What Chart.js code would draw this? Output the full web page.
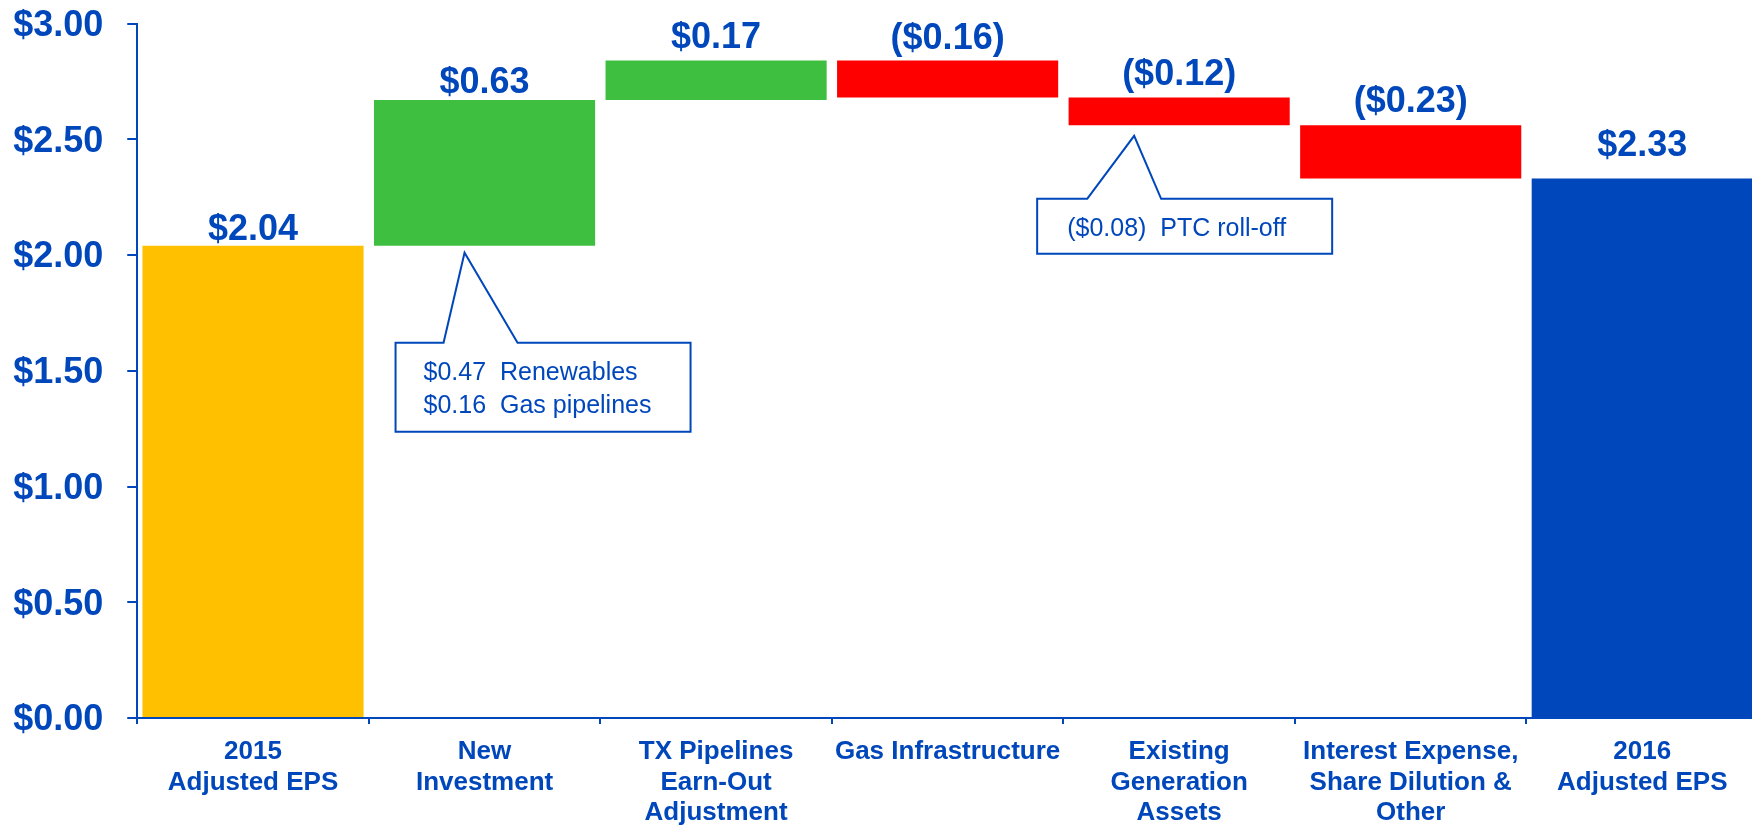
<!DOCTYPE html>
<html><head><meta charset="utf-8">
<script src="https://cdn.jsdelivr.net/npm/chart.js@4.4.0/dist/chart.umd.min.js"></script>
<style>
html,body{margin:0;padding:0;background:#fff;overflow:hidden;}
#wrap{position:relative;width:1761px;height:825px;}
</style></head><body>
<div id="wrap"><canvas id="c"></canvas></div>
<script>
// ---- data ----
const categories = [
  ["2015", "Adjusted EPS"],
  ["New", "Investment"],
  ["TX Pipelines", "Earn-Out", "Adjustment"],
  ["Gas Infrastructure"],
  ["Existing", "Generation", "Assets"],
  ["Interest Expense,", "Share Dilution &", "Other"],
  ["2016", "Adjusted EPS"]
];
const values = [2.04, 0.63, 0.17, -0.16, -0.12, -0.23, 2.33];
const isTotal = [true, false, false, false, false, false, true];
const yTicks = [0, 0.5, 1, 1.5, 2, 2.5, 3];
const callout1Lines = ["$0.47  Renewables", "$0.16  Gas pipelines"];
const callout2Lines = ["($0.08)  PTC roll-off"];

// ---- styles ----
const BLUE = '#0047BB';
const barColors = ['#FFC000', '#3FBF3F', '#3FBF3F', '#FF0000', '#FF0000', '#FF0000', '#0047BB'];
const labelGaps = [16, 17, 22, 21, 23, 23, 33]; // px between bar top and value label
const FONT = 'Arial, "Liberation Sans", sans-serif';

// floating ranges from running total
const ranges = [];
let run = 0;
values.forEach((v, i) => {
  if (isTotal[i]) { ranges.push([0, v]); run = v; }
  else { ranges.push([run, run + v]); run += v; }
});

function fmt(v) {
  const s = '$' + Math.abs(v).toFixed(2);
  return (v < 0) ? '(' + s + ')' : s;
}

const valueLabels = {
  id: 'valueLabels',
  afterDatasetsDraw(chart) {
    const ctx = chart.ctx;
    const meta = chart.getDatasetMeta(0);
    ctx.save();
    ctx.fillStyle = BLUE;
    ctx.font = 'bold 36px ' + FONT;
    ctx.textAlign = 'center';
    ctx.textBaseline = 'middle';
    meta.data.forEach((bar, i) => {
      const top = Math.min(bar.y, bar.base);
      ctx.fillText(fmt(values[i]), bar.x, top - labelGaps[i]);
    });
    ctx.restore();
  }
};

// callouts: anchored to (category index, value) tip; geometry in px relative to tip
const callouts = [
  { index: 1, value: 2.01, dx: -20, box: { l: -69, r: 226, t: 90, b: 179 }, base: [-21, 53],
    text: callout1Lines, tx: -41, ty: [120, 153] },
  { index: 4, value: 2.515, dx: -45, box: { l: -97, r: 198, t: 63, b: 118 }, base: [-47, 27],
    text: callout2Lines, tx: -67, ty: [93.5] }
];

const calloutPlugin = {
  id: 'callouts',
  afterDatasetsDraw(chart) {
    const ctx = chart.ctx;
    const xs = chart.scales.x, ys = chart.scales.y;
    ctx.save();
    callouts.forEach(c => {
      const tx = xs.getPixelForValue(c.index) + c.dx;
      const ty = ys.getPixelForValue(c.value);
      const L = tx + c.box.l, R = tx + c.box.r, T = ty + c.box.t, B = ty + c.box.b;
      ctx.beginPath();
      ctx.moveTo(tx + c.base[0], T);
      ctx.lineTo(tx, ty);
      ctx.lineTo(tx + c.base[1], T);
      ctx.lineTo(R, T);
      ctx.lineTo(R, B);
      ctx.lineTo(L, B);
      ctx.lineTo(L, T);
      ctx.closePath();
      ctx.fillStyle = '#fff';
      ctx.fill();
      ctx.lineWidth = 2;
      ctx.strokeStyle = BLUE;
      ctx.lineJoin = 'miter';
      ctx.stroke();
      ctx.fillStyle = BLUE;
      ctx.font = '25px ' + FONT;
      ctx.textAlign = 'left';
      ctx.textBaseline = 'middle';
      c.text.forEach((t, k) => ctx.fillText(t, tx + c.tx, ty + c.ty[k]));
    });
    ctx.restore();
  }
};

new Chart(document.getElementById('c'), {
  type: 'bar',
  data: {
    labels: categories,
    datasets: [{
      data: ranges,
      backgroundColor: barColors,
      borderWidth: 0,
      borderSkipped: false,
      barPercentage: 0.955,
      categoryPercentage: 1.0
    }]
  },
  options: {
    responsive: true,
    maintainAspectRatio: false,
    animation: false,
    layout: { padding: { top: 23.5, left: 0, right: 0, bottom: 0 } },
    plugins: { legend: { display: false }, tooltip: { enabled: false } },
    scales: {
      x: {
        grid: { display: true, drawOnChartArea: false, drawTicks: true, tickLength: 6, color: BLUE, lineWidth: 2 },
        border: { display: true, color: BLUE, width: 2 },
        ticks: {
          color: BLUE, maxRotation: 0, minRotation: 0, autoSkip: false, padding: 13,
          font: { family: FONT, size: 26, weight: 'bold', lineHeight: 1.17 }
        },
        afterFit(s) { s.height = 107; s.paddingLeft = 0; s.paddingRight = 3; }
      },
      y: {
        min: 0, max: 3,
        afterBuildTicks(s) { s.ticks = yTicks.map(v => ({ value: v })); },
        grid: { display: true, drawOnChartArea: false, drawTicks: true, tickLength: 10, color: BLUE, lineWidth: 2 },
        border: { display: true, color: BLUE, width: 2 },
        ticks: {
          color: BLUE, padding: 24, labelOffset: 2.5,
          font: { family: FONT, size: 36, weight: 'bold', lineHeight: 1.2 },
          callback: v => '$' + Number(v).toFixed(2)
        },
        afterFit(s) { s.width = 137.25; s.paddingTop = 0; s.paddingBottom = 0; }
      }
    }
  },
  plugins: [valueLabels, calloutPlugin]
});
</script>
</body></html>
